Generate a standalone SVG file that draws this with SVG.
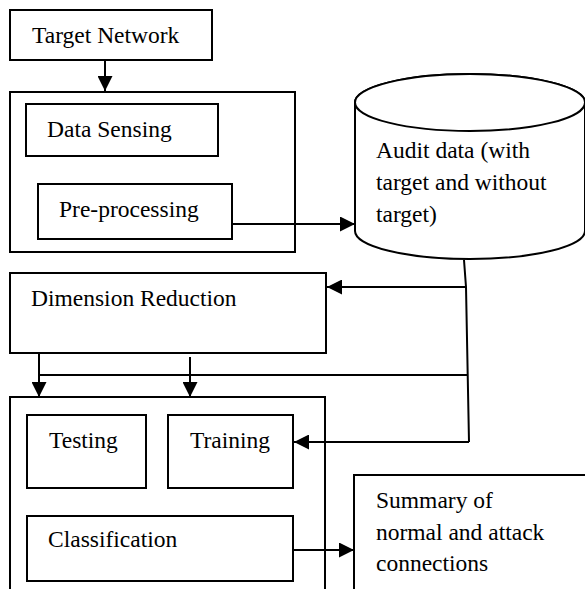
<svg xmlns="http://www.w3.org/2000/svg" width="585" height="589" viewBox="0 0 585 589">
<style>
.box{fill:#fff;stroke:#000;stroke-width:2}
.t{font-family:'Liberation Serif','Times New Roman',serif;font-size:23.5px;fill:#000}
.c{fill:none;stroke:#000;stroke-width:2}
</style>
<defs>
<marker id="ah" viewBox="0 0 15 15" refX="15" refY="7.5" markerWidth="15" markerHeight="15" markerUnits="userSpaceOnUse" orient="auto">
<path d="M0,0 L15,7.5 L0,15 Z" fill="#000"/>
</marker>
</defs>
<rect width="585" height="589" fill="#fff"/>
<g id="target-network">
<rect class="box" x="10" y="10" width="202" height="50"/>
<text class="t" x="32" y="43">Target Network</text>
</g>
<g id="sensing-group">
<rect class="box" x="10" y="92" width="285" height="160"/>
</g>
<g id="data-sensing">
<rect class="box" x="26" y="104" width="192" height="52"/>
<text class="t" x="47" y="137">Data Sensing</text>
</g>
<g id="pre-processing">
<rect class="box" x="38" y="184" width="194" height="55"/>
<text class="t" x="59" y="217">Pre-processing</text>
</g>
<g id="audit-data">
<path class="box" d="M355,102.5 L355,231 A115,28 0 0 0 585,231 L585,102.5 A115,28.5 0 0 0 355,102.5 Z"/>
<ellipse class="box" cx="470" cy="102.5" rx="115" ry="28.5" fill="none"/>
<text class="t" x="376" y="158">Audit data (with</text>
<text class="t" x="376" y="190">target and without</text>
<text class="t" x="376" y="222">target)</text>
</g>
<g id="dimension-reduction">
<rect class="box" x="10" y="273" width="316" height="80"/>
<text class="t" x="31" y="306">Dimension Reduction</text>
</g>
<g id="model-group">
<rect class="box" x="10" y="397" width="315" height="200"/>
</g>
<g id="testing">
<rect class="box" x="27" y="415" width="119" height="73"/>
<text class="t" x="49" y="448">Testing</text>
</g>
<g id="training">
<rect class="box" x="168" y="415" width="125" height="73"/>
<text class="t" x="190" y="448">Training</text>
</g>
<g id="classification">
<rect class="box" x="27" y="516" width="266" height="65"/>
<text class="t" x="48" y="547">Classification</text>
</g>
<g id="summary">
<rect class="box" x="354" y="475" width="240" height="130"/>
<text class="t" x="376" y="508">Summary of</text>
<text class="t" x="376" y="540">normal and attack</text>
<text class="t" x="376" y="571">connections</text>
</g>
<g id="connectors">
<path class="c" d="M105,60 L105,91" marker-end="url(#ah)"/>
<path class="c" d="M232,224 L355,224" marker-end="url(#ah)"/>
<path class="c" d="M464,260 L466,287 L469,442"/>
<path class="c" d="M466,287 L327,287" marker-end="url(#ah)"/>
<path class="c" d="M469,442 L294,442" marker-end="url(#ah)"/>
<path class="c" d="M39,375 L468,375"/>
<path class="c" d="M39,353 L39,397" marker-end="url(#ah)"/>
<path class="c" d="M190,357 L190,397" marker-end="url(#ah)"/>
<path class="c" d="M293,550 L354,550" marker-end="url(#ah)"/>
</g>
</svg>
